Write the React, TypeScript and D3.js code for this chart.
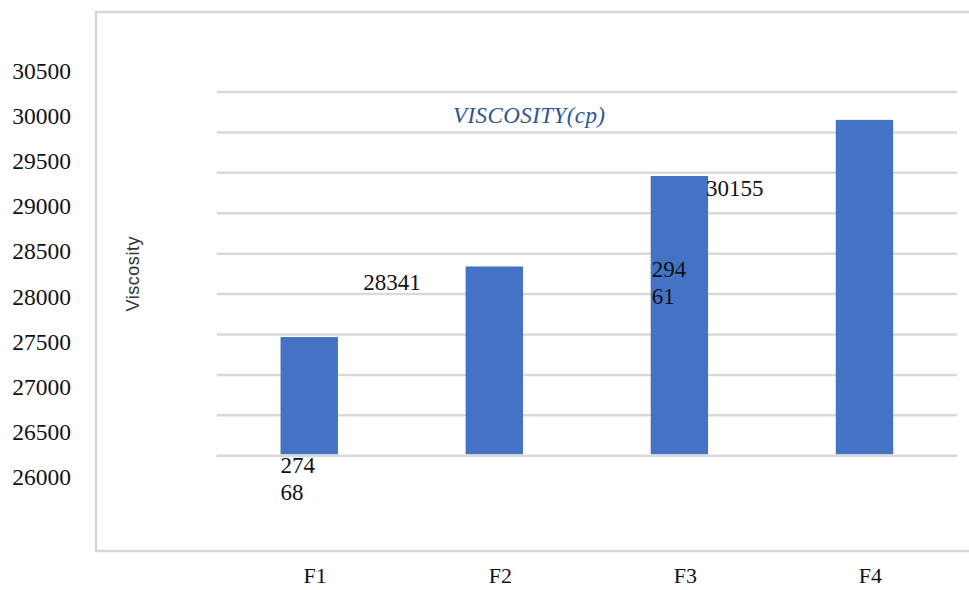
import React, { useEffect, useRef } from 'react';
import * as d3 from 'd3';

// chart data
const categories = ['F1', 'F2', 'F3', 'F4'];
const viscosity = [27468, 28341, 29461, 30155];
const tickLabels = [26000, 26500, 27000, 27500, 28000, 28500, 29000, 29500, 30000, 30500];
const chartTitle = 'VISCOSITY(cp)';
const axisTitle = 'Viscosity';

const W = 969;
const H = 590;
const serif = "'Liberation Serif', 'DejaVu Serif', serif";

const App = () => {
  const svgRef = useRef<SVGSVGElement | null>(null);

  useEffect(() => {
    const svg = d3.select(svgRef.current);
    svg.selectAll('*').remove();

    const x = d3.scaleBand<string>().domain(categories).range([216.7, 957]).padding(0);
    const y = d3.scaleLinear().domain([26000, 30500]).range([455.7, 92]);
    // tick labels in the source sit on their own (offset) spacing
    const yLabel = d3.scaleLinear().domain([26000, 30500]).range([485, 79]);

    const barW = x.bandwidth() * 0.31;
    const barLeft = (c: string) => (x(c) as number) + (x.bandwidth() - barW) / 2;

    // outer frame
    svg.append('path')
      .attr('d', `M${W},12 H96 V551 H${W}`)
      .attr('fill', 'none')
      .attr('stroke', '#d6d6d6')
      .attr('stroke-width', 2.5);

    // gridlines
    svg.append('g')
      .selectAll('line')
      .data(y.ticks(10))
      .join('line')
      .attr('x1', 216.7)
      .attr('x2', 957)
      .attr('y1', d => y(d))
      .attr('y2', d => y(d))
      .attr('stroke', '#d9d9d9')
      .attr('stroke-width', 2.5);

    // y tick labels
    svg.append('g')
      .selectAll('text')
      .data(tickLabels)
      .join('text')
      .attr('x', 71)
      .attr('y', d => yLabel(d))
      .attr('text-anchor', 'end')
      .style('font-family', serif)
      .style('font-size', '23.5px')
      .attr('fill', '#111')
      .text(d => d);

    // bars
    svg.append('g')
      .selectAll('rect')
      .data(viscosity)
      .join('rect')
      .attr('x', (d, i) => barLeft(categories[i]))
      .attr('width', barW)
      .attr('y', d => y(d))
      .attr('height', d => y(26000) - y(d) - 1.5)
      .attr('fill', '#4472c4');

    // category labels
    svg.append('g')
      .selectAll('text')
      .data(categories)
      .join('text')
      .attr('x', d => (x(d) as number) + x.bandwidth() / 2 + 6)
      .attr('y', 583)
      .attr('text-anchor', 'middle')
      .style('font-family', serif)
      .style('font-size', '22px')
      .attr('fill', '#111')
      .text(d => d);

    // data labels (placed as they appear in the source, wrapped ones split after 3 digits)
    const lbl = (txt: string[], lx: number, ly: number, anchor = 'start') => {
      const t = svg.append('text')
        .style('font-family', serif)
        .style('font-size', '23px')
        .attr('fill', '#111')
        .attr('text-anchor', anchor);
      txt.forEach((s, i) => {
        t.append('tspan').attr('x', lx).attr('y', ly + i * 27.5).text(s);
      });
    };
    const s = viscosity.map(v => String(v));
    lbl([s[0].slice(0, 3), s[0].slice(3)], barLeft('F1'), y(26000) + 17);
    lbl([s[1]], barLeft('F2') - 45, y(viscosity[1]) + 23.5, 'end');
    lbl([s[2].slice(0, 3), s[2].slice(3)], barLeft('F3') + 1, y(viscosity[2]) + 101);
    lbl([s[3]], barLeft('F3') + barW - 2, y(viscosity[3]) + 76);

    // chart title
    svg.append('text')
      .attr('x', 453)
      .attr('y', 123)
      .style('font-family', serif)
      .style('font-style', 'italic')
      .style('font-size', '23px')
      .attr('textLength', 152)
      .attr('fill', '#2f5597')
      .text(chartTitle);

    // axis title
    svg.append('text')
      .attr('transform', 'translate(139,274) rotate(-90)')
      .attr('text-anchor', 'middle')
      .style('font-family', "'Liberation Sans', Arial, sans-serif")
      .style('font-size', '18px')
      .attr('textLength', 75)
      .attr('fill', '#333')
      .text(axisTitle);
  }, []);

  return (
    <svg
      ref={svgRef}
      width={W}
      height={H}
      viewBox={`0 0 ${W} ${H}`}
      style={{ position: 'absolute', left: 0, top: 0, background: '#fff' }}
    />
  );
};

export default App;
